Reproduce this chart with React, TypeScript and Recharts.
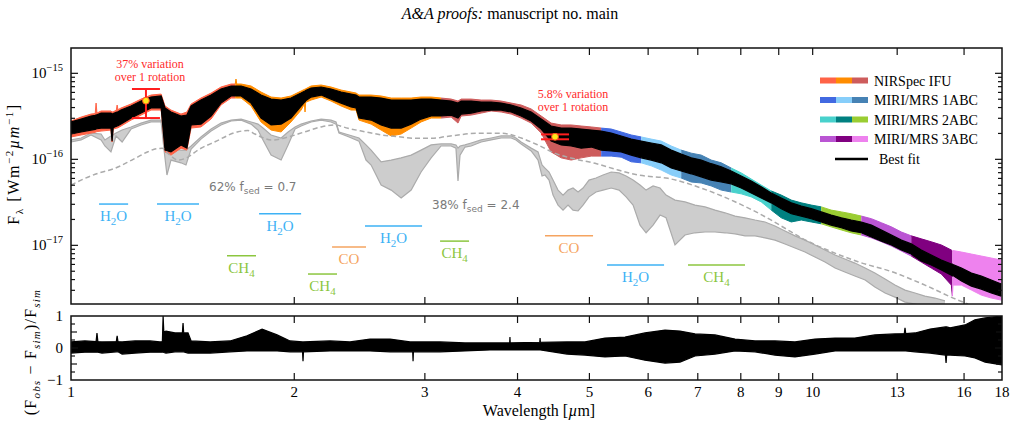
import React from 'react';
import {
  ComposedChart,
  Area,
  Line,
  Scatter,
  ErrorBar,
  XAxis,
  YAxis,
  ReferenceLine,
  ReferenceDot,
  Legend,
} from 'recharts';

const SERIF = '"Liberation Serif", "Times New Roman", serif';
const SANS = '"DejaVu Sans", "Liberation Sans", sans-serif';

// Flux values are in units of 1e-16 W m^-2 µm^-1.

// Observed spectrum and best fit: wavelength grid (µm)
const SPEC_WAVE = [
  1.0, 1.032, 1.064, 1.078, 1.081, 1.084, 1.098, 1.132, 1.136, 1.14, 1.151, 1.154, 1.157, 1.168,
  1.205, 1.243, 1.282, 1.323, 1.339, 1.364, 1.407, 1.433, 1.452, 1.497, 1.545, 1.593, 1.644, 1.665,
  1.669, 1.673, 1.696, 1.749, 1.804, 1.861, 1.92, 1.98, 2.043, 2.064, 2.068, 2.072, 2.107, 2.174,
  2.242, 2.313, 2.386, 2.423, 2.445, 2.539, 2.619, 2.702, 2.787, 2.875, 2.965, 3.059, 3.155, 3.255,
  3.325, 3.358, 3.464, 3.573, 3.686, 3.802, 3.922, 4.045, 4.173, 4.305, 4.44, 4.581, 4.725, 4.874,
  5.028, 5.186, 5.35, 5.519, 5.693, 5.872, 6.058, 6.249, 6.446, 6.649, 6.859, 7.075, 7.298, 7.529,
  7.766, 8.011, 8.264, 8.524, 8.793, 9.071, 9.357, 9.652, 9.956, 10.27, 10.59, 10.93, 11.27, 11.63,
  12.0, 12.38, 12.77, 13.17, 13.58, 14.01, 14.45, 14.91, 15.38, 15.43, 15.46, 15.87, 16.37, 16.88,
  17.41, 17.96,
];
// Best-fit model envelope
const FIT_HI = [
  2.72, 2.94, 3.19, 3.24, 3.27, 3.3, 3.45, 3.45, 3.36, 3.4, 3.52, 3.55, 3.58, 3.74,
  4.17, 4.76, 5.3, 5.45, 3.95, 3.55, 3.19, 3.27, 4.17, 4.89, 5.59, 6.57, 7.12, 7.12,
  7.12, 7.12, 7.12, 6.57, 5.59, 5.02, 4.89, 5.16, 5.9, 6.2, 6.23, 6.3, 6.75, 6.93,
  6.57, 6.06, 5.74, 5.59, 5.3, 5.3, 5.16, 4.89, 4.89, 4.89, 5.02, 5.02, 4.89, 4.76,
  4.51, 4.76, 4.76, 4.64, 4.64, 4.51, 4.28, 3.95, 3.55, 2.94, 2.44, 2.31, 2.31, 2.25,
  2.19, 2.13, 2.02, 1.87, 1.72, 1.63, 1.55, 1.47, 1.28, 1.15, 1.04, 0.981, 0.89, 0.82,
  0.731, 0.641, 0.561, 0.479, 0.407, 0.355, 0.312, 0.287, 0.267, 0.245, 0.225, 0.209, 0.197, 0.187,
  0.172, 0.151, 0.132, 0.115, 0.104, 0.0882, 0.0771, 0.0675, 0.0606, 0.0606, 0.06, 0.0545, 0.0476, 0.044,
  0.0395, 0.0355,
];
const FIT_LO = [
  1.97, 2.08, 2.19, 2.23, 2.25, 2.27, 2.31, 2.31, 1.63, 2.33, 2.42, 2.44, 2.46, 2.57,
  3.02, 3.45, 3.95, 3.95, 1.28, 1.22, 1.47, 1.35, 2.51, 2.57, 3.19, 4.51, 5.45, 5.45,
  5.45, 5.45, 5.45, 4.51, 3.02, 2.51, 2.57, 3.02, 4.17, 4.6, 4.64, 4.8, 5.3, 5.59,
  5.02, 4.51, 4.06, 3.95, 3.02, 2.86, 2.51, 2.31, 2.31, 2.57, 2.94, 3.19, 3.19, 3.27,
  3.02, 3.36, 3.45, 3.65, 3.74, 3.74, 3.55, 3.19, 2.79, 2.25, 1.63, 1.47, 1.43, 1.35,
  1.39, 1.28, 1.25, 1.22, 1.12, 1.04, 0.981, 0.911, 0.792, 0.731, 0.679, 0.626, 0.574, 0.545,
  0.519, 0.464, 0.407, 0.355, 0.312, 0.267, 0.233, 0.219, 0.204, 0.187, 0.172, 0.16, 0.147, 0.14,
  0.125, 0.112, 0.101, 0.0882, 0.0792, 0.0657, 0.059, 0.0516, 0.0451, 0.044, 0.0445, 0.0385, 0.0336, 0.031,
  0.0279, 0.0257,
];
// Observed data envelope
const OBS_HI = [
  2.79, 3.1, 3.36, 3.4, 4.51, 3.45, 3.65, 3.65, 3.55, 3.58, 3.72, 4.28, 3.78, 3.95,
  4.4, 5.02, 5.59, 5.74, 4.17, 3.74, 3.36, 3.55, 4.4, 5.16, 5.9, 6.93, 7.51, 7.51,
  8.59, 7.51, 7.51, 7.12, 6.06, 5.3, 5.16, 5.45, 6.23, 6.5, 6.57, 6.6, 7.12, 7.31,
  6.93, 6.39, 6.06, 5.9, 5.59, 5.59, 5.45, 5.16, 5.16, 5.16, 5.3, 5.3, 5.16, 5.02,
  4.76, 5.02, 5.02, 4.89, 4.89, 4.76, 4.51, 4.28, 3.85, 3.19, 2.64, 2.51, 2.51, 2.44,
  2.38, 2.31, 2.25, 2.08, 1.92, 1.82, 1.72, 1.63, 1.43, 1.28, 1.18, 1.12, 0.981, 0.911,
  0.792, 0.695, 0.59, 0.502, 0.429, 0.384, 0.336, 0.312, 0.294, 0.28, 0.257, 0.245, 0.233, 0.219,
  0.204, 0.183, 0.164, 0.143, 0.129, 0.119, 0.11, 0.101, 0.0882, 0.0859, 0.087, 0.0836, 0.0792, 0.0751,
  0.0712, 0.0675,
];
const OBS_LO = [
  1.82, 1.92, 2.02, 2.06, 2.08, 2.1, 2.13, 2.19, 1.59, 2.25, 2.3, 2.31, 2.33, 2.44,
  2.86, 3.27, 3.74, 3.74, 1.22, 1.12, 1.35, 1.28, 2.31, 2.38, 2.94, 4.28, 5.16, 5.16,
  5.16, 5.16, 5.16, 4.17, 2.72, 2.19, 2.08, 2.72, 3.74, 4.4, 3.55, 4.6, 4.89, 5.3,
  4.76, 4.17, 3.74, 3.74, 2.86, 2.57, 2.19, 1.87, 1.97, 2.31, 2.72, 3.02, 3.02, 3.1,
  2.64, 3.19, 3.27, 3.45, 3.65, 3.55, 3.36, 3.02, 2.64, 2.02, 1.22, 1.04, 0.981, 1.04,
  1.09, 1.09, 1.09, 1.06, 0.936, 0.911, 0.84, 0.751, 0.657, 0.606, 0.545, 0.531, 0.491, 0.439,
  0.417, 0.397, 0.366, 0.32, 0.257, 0.209, 0.187, 0.197, 0.187, 0.178, 0.164, 0.151, 0.14, 0.132,
  0.122, 0.11, 0.0981, 0.0859, 0.0751, 0.0639, 0.0545, 0.0464, 0.0345, 0.0257, 0.0345, 0.0345, 0.0302, 0.0264,
  0.0244, 0.0231,
];

// Instrument sub-bands (µm) and their colours
const SEG_FROM = [1.0, 1.66, 3.06, 5.05, 5.7, 6.55, 7.55, 8.7, 10.05, 11.6, 13.4, 15.4];
const SEG_TO = [1.66, 3.06, 5.05, 5.7, 6.55, 7.55, 8.7, 10.05, 11.6, 13.4, 15.4, 18.0];
const SEG_COLOR = [
  '#FF6347', '#FF8C00', '#CD5C5C',
  '#4169E1', '#87CEFA', '#4682B4',
  '#48D1CC', '#008080', '#9ACD32',
  '#BA55D3', '#800080', '#EE82EE',
];

// Cloudy model component (62 %, f_sed = 0.7)
const CLOUDY_WAVE = [
  1.0, 1.032, 1.064, 1.098, 1.111, 1.132, 1.15, 1.172, 1.205, 1.243, 1.282, 1.323, 1.335, 1.347,
  1.364, 1.407, 1.429, 1.452, 1.497, 1.545, 1.593, 1.644, 1.696, 1.749, 1.787, 1.815, 1.861, 1.92,
  1.962, 2.005, 2.043, 2.107, 2.174, 2.242, 2.277, 2.298, 2.371, 2.445, 2.499, 2.539, 2.619, 2.702,
  2.787, 2.875, 2.965, 3.059, 3.155, 3.255, 3.304, 3.325, 3.346, 3.398, 3.464, 3.573, 3.686, 3.802,
  3.922, 3.981, 4.045, 4.173, 4.263, 4.316, 4.356, 4.411, 4.466, 4.536, 4.607, 4.679, 4.752, 4.827,
  4.902, 4.994, 5.104, 5.216, 5.35, 5.482, 5.603, 5.726, 5.851, 5.962, 6.093, 6.226, 6.343, 6.522,
  6.728, 6.94, 7.159, 7.385, 7.617, 7.858, 8.105, 8.361, 8.625, 8.896, 9.177, 9.466, 9.765, 10.07,
  10.39, 10.72, 11.05, 11.4, 11.77, 12.13, 12.52, 12.91, 13.32, 13.74, 14.17, 14.62, 15.08,
];
const CLOUDY_HI = [
  1.68, 1.77, 2.02, 1.97, 1.68, 1.87, 2.02, 2.19, 2.38, 2.64, 2.86, 2.86, 2.51, 1.28,
  1.35, 1.28, 1.28, 1.43, 1.82, 2.25, 2.64, 2.86, 2.94, 2.72, 2.57, 2.31, 1.92, 1.77,
  2.08, 2.38, 2.57, 2.79, 2.94, 2.86, 2.72, 2.08, 1.92, 1.77, 1.47, 1.28, 0.936, 0.981,
  1.04, 1.12, 1.28, 1.47, 1.51, 1.51, 1.47, 1.35, 1.43, 1.47, 1.55, 1.68, 1.77, 1.87,
  1.87, 1.77, 1.59, 1.35, 1.22, 0.859, 0.792, 0.712, 0.574, 0.439, 0.384, 0.439, 0.464, 0.417,
  0.464, 0.574, 0.606, 0.657, 0.712, 0.695, 0.641, 0.574, 0.502, 0.439, 0.491, 0.464, 0.384, 0.336,
  0.32, 0.294, 0.28, 0.257, 0.239, 0.219, 0.209, 0.197, 0.187, 0.168, 0.147, 0.129, 0.115, 0.101,
  0.0882, 0.0771, 0.0693, 0.0622, 0.0545, 0.0476, 0.0406, 0.0345, 0.0302, 0.0279, 0.0257, 0.0244, 0.0226,
];
const CLOUDY_LO = [
  1.59, 1.68, 1.92, 1.68, 1.43, 1.22, 1.87, 1.59, 2.25, 2.51, 2.72, 2.72, 1.28, 0.657,
  0.981, 0.911, 0.859, 1.32, 1.72, 2.13, 2.51, 2.79, 2.86, 2.57, 2.19, 1.68, 1.12, 0.981,
  1.47, 2.25, 2.44, 2.72, 2.86, 2.72, 2.57, 2.02, 1.82, 1.63, 0.981, 0.859, 0.502, 0.439,
  0.355, 0.439, 0.712, 1.04, 1.43, 1.43, 1.35, 0.561, 1.12, 1.39, 1.43, 1.59, 1.68, 1.77,
  1.77, 1.68, 1.51, 1.25, 0.981, 0.641, 0.657, 0.574, 0.384, 0.294, 0.257, 0.294, 0.257, 0.251,
  0.294, 0.366, 0.417, 0.439, 0.464, 0.439, 0.366, 0.294, 0.172, 0.14, 0.172, 0.225, 0.209, 0.101,
  0.132, 0.14, 0.143, 0.143, 0.14, 0.136, 0.129, 0.129, 0.122, 0.115, 0.1035, 0.093, 0.0836, 0.0731,
  0.0639, 0.0545, 0.0489, 0.044, 0.0395, 0.0327, 0.0279, 0.025, 0.0219, 0.0208, 0.0195, 0.0192, 0.0185,
];

// Thin-cloud model component (38 %, f_sed = 2.4)
const CLEAR_WAVE = [
  1.0, 1.044, 1.087, 1.146, 1.208, 1.27, 1.298, 1.327, 1.351, 1.394, 1.438, 1.483, 1.564, 1.68,
  1.732, 1.77, 1.866, 1.962, 2.068, 2.18, 2.27, 2.363, 2.491, 2.627, 2.76, 2.91, 3.068, 3.194,
  3.538, 3.812, 4.056, 4.263, 4.494, 4.737, 5.088, 5.464, 5.815, 6.382, 7.093, 7.858, 8.706, 9.177,
  9.674, 10.17, 10.39, 11.51, 12.79, 14.17, 15.7, 16.2,
];
const CLEAR_FLUX = [
  0.502, 0.601, 0.688, 0.786, 0.981, 1.226, 1.318, 1.342, 1.174, 0.981, 1.063, 1.283, 1.602, 2.094,
  2.162, 1.97, 1.676, 1.816, 2.094, 2.394, 2.504, 2.294, 2.094, 1.917, 1.832, 1.755, 1.755, 1.832,
  2.006, 2.006, 1.755, 1.466, 1.174, 1.027, 0.899, 0.751, 0.657, 0.601, 0.46, 0.321, 0.206, 0.158,
  0.121, 0.0981, 0.0906, 0.0645, 0.0493, 0.0345, 0.0231, 0.0208,
];

// Relative residuals (F_obs - F_sim) / F_sim
const RES_WAVE = [
  1.0, 1.044, 1.081, 1.084, 1.087, 1.101, 1.151, 1.154, 1.157, 1.172, 1.22, 1.278, 1.318, 1.328,
  1.331, 1.334, 1.343, 1.381, 1.413, 1.416, 1.419, 1.438, 1.452, 1.54, 1.638, 1.727, 1.81, 1.896,
  1.974, 2.052, 2.055, 2.058, 2.235, 2.378, 2.53, 2.693, 2.865, 2.889, 2.892, 2.895, 3.145, 3.398,
  3.672, 3.904, 3.907, 3.91, 4.286, 4.29, 4.294, 4.665, 4.932, 5.248, 5.585, 5.942, 6.323, 6.624,
  6.94, 7.385, 7.858, 8.361, 8.896, 9.466, 10.07, 10.72, 11.4, 12.13, 12.91, 13.29, 13.32, 13.35,
  13.74, 14.4, 15.1, 15.13, 15.16, 15.32, 16.05, 16.55, 17.08, 18.0,
];
const RES_HI = [
  0.19, 0.22, 0.2, 0.47, 0.2, 0.19, 0.2, 0.38, 0.2, 0.19, 0.22, 0.22, 0.19, 0.2,
  1.0, 0.5, 0.53, 0.47, 0.47, 0.78, 0.47, 0.47, 0.22, 0.19, 0.22, 0.38, 0.59, 0.41,
  0.22, 0.19, 0.19, 0.19, 0.22, 0.19, 0.28, 0.28, 0.19, 0.19, 0.19, 0.19, 0.19, 0.16,
  0.16, 0.16, 0.34, 0.16, 0.18, 0.31, 0.18, 0.19, 0.19, 0.31, 0.34, 0.47, 0.56, 0.53,
  0.44, 0.41, 0.28, 0.22, 0.22, 0.19, 0.28, 0.31, 0.31, 0.41, 0.44, 0.45, 0.63, 0.45,
  0.47, 0.59, 0.66, 0.66, 0.66, 0.63, 0.72, 0.88, 0.94, 1.0,
];
const RES_LO = [
  -0.16, -0.13, -0.13, -0.13, -0.13, -0.16, -0.12, -0.12, -0.12, -0.19, -0.16, -0.13, -0.13, -0.13,
  -0.12, -0.14, -0.16, -0.12, -0.12, -0.12, -0.12, -0.16, -0.16, -0.16, -0.12, -0.09, -0.09, -0.09,
  -0.12, -0.12, -0.41, -0.12, -0.09, -0.09, -0.09, -0.12, -0.12, -0.12, -0.41, -0.12, -0.12, -0.09,
  -0.06, -0.06, -0.06, -0.06, -0.06, -0.06, -0.06, -0.19, -0.22, -0.28, -0.25, -0.38, -0.47, -0.44,
  -0.25, -0.19, -0.09, -0.12, -0.22, -0.28, -0.19, -0.09, -0.09, -0.09, -0.09, -0.09, -0.09, -0.09,
  -0.12, -0.16, -0.22, -0.47, -0.22, -0.22, -0.25, -0.31, -0.44, -0.53,
];

// Photometric variability points with their amplitude
const VAR_POINTS = [
  { w: 1.262, f: 4.8, err: [1.78, 1.77] },
  { w: 4.494, f: 1.83, err: [0.12, 0.12] },
];

// Molecular absorption bands
const BAND_NAME = ['H2O', 'H2O', 'H2O', 'CH4', 'CO', 'CH4', 'H2O', 'CH4', 'CO', 'H2O', 'CH4'];
const BAND_FROM = [1.091, 1.306, 1.793, 1.623, 2.249, 2.087, 2.491, 3.145, 4.356, 5.281, 6.791];
const BAND_TO = [1.194, 1.488, 2.043, 1.776, 2.499, 2.284, 2.974, 3.441, 5.057, 6.304, 8.105];
const BAND_LEVEL = [0.302, 0.302, 0.233, 0.0757, 0.0955, 0.0464, 0.168, 0.112, 0.129, 0.059, 0.059];
const MOLECULE_COLOR: Record<string, string> = { H2O: '#3DB2F5', CH4: '#8CC63F', CO: '#F5A460' };

const X_TICKS = [1, 2, 3, 4, 5, 6, 7, 8, 9, 10, 13, 16, 18];
const FLUX_MAJOR = [0.1, 1, 10];
const FLUX_TICKS = [
  0.03, 0.04, 0.05, 0.06, 0.07, 0.08, 0.09, 0.1,
  0.2, 0.3, 0.4, 0.5, 0.6, 0.7, 0.8, 0.9, 1,
  2, 3, 4, 5, 6, 7, 8, 9, 10,
];
const RES_MAJOR = [-1, 0, 1];
const RES_TICKS = [-1, -0.75, -0.5, -0.25, 0, 0.25, 0.5, 0.75, 1];

const LEGEND_LABELS = ['NIRSpec IFU', 'MIRI/MRS 1ABC', 'MIRI/MRS 2ABC', 'MIRI/MRS 3ABC'];

// ---------- page layout (plot boxes of the two panels) ----------
const PAGE_W = 1016;
const PAGE_H = 427;
const PLOT_LEFT = 71;
const PLOT_RIGHT = 1002;
const MAIN_TOP = 48;
const MAIN_BOTTOM = 304;
const RES_CHART_TOP = 300;
const RES_TOP = 316;
const RES_BOTTOM = 380;

// ---------- derived rows ----------
const fitRows = SPEC_WAVE.map((w, i) => ({ w, band: [FIT_LO[i], FIT_HI[i]] }));
const obsRows = SPEC_WAVE.map((w, i) => ({ w, band: [OBS_LO[i], OBS_HI[i]] }));
const segmentRows = SEG_FROM.map((from, s) => {
  const idx = SPEC_WAVE.map((_, i) => i).filter((i) => SPEC_WAVE[i] >= from && SPEC_WAVE[i] < SEG_TO[s]);
  const last = idx[idx.length - 1];
  if (last + 1 < SPEC_WAVE.length) idx.push(last + 1);
  return idx.map((i) => obsRows[i]);
});
const cloudyRows = CLOUDY_WAVE.map((w, i) => ({ w, band: [CLOUDY_LO[i], CLOUDY_HI[i]] }));
const clearRows = CLEAR_WAVE.map((w, i) => ({ w, f: CLEAR_FLUX[i] }));
const resRows = RES_WAVE.map((w, i) => ({ w, band: [RES_LO[i], RES_HI[i]] }));

const isMajor = (v: number, majors: number[]) => majors.some((m) => Math.abs(m - v) < 1e-9);
const MINUS = '\u2212';
const FRAME = '#111';

// ---------- tick labels (drawn by the axes) ----------
const xLabel = (p: any) => (
  <text x={p.x} y={p.y + 17} textAnchor="middle" fontFamily={SERIF} fontSize={15} fill="#000">
    {p.payload.value}
  </text>
);
const noLabel = () => <g />;

const fluxLabel = (p: any) => {
  const v = p.payload.value;
  if (!isMajor(v, FLUX_MAJOR)) return <g />;
  const exp = Math.round(Math.log10(v)) - 16;
  return (
    <text x={p.x - 8} y={p.y + 5} textAnchor="end" fontFamily={SERIF} fontSize={15} fill="#000">
      10
      <tspan dy={-7} fontSize={10.5}>
        {MINUS + Math.abs(exp)}
      </tspan>
    </text>
  );
};

const resLabel = (p: any) => {
  const v = p.payload.value;
  if (!isMajor(v, RES_MAJOR)) return <g />;
  return (
    <text x={p.x - 8} y={p.y + 5} textAnchor="end" fontFamily={SERIF} fontSize={15} fill="#000">
      {v < 0 ? MINUS + Math.abs(v) : String(v)}
    </text>
  );
};

// ---------- inward tick marks drawn at both ends of a full-span segment ----------
const xTickMark = (p: any) => {
  const top = Math.min(p.y1, p.y2);
  const bot = Math.max(p.y1, p.y2);
  return (
    <g>
      <line x1={p.x1} x2={p.x1} y1={top} y2={top + 7} stroke={FRAME} strokeWidth={1.2} />
      <line x1={p.x1} x2={p.x1} y1={bot} y2={bot - 7} stroke={FRAME} strokeWidth={1.2} />
    </g>
  );
};
const yTickMark = (len: number) => (p: any) => {
  const left = Math.min(p.x1, p.x2);
  const right = Math.max(p.x1, p.x2);
  return (
    <g>
      <line x1={left} x2={left + len} y1={p.y1} y2={p.y1} stroke={FRAME} strokeWidth={1.2} />
      <line x1={right} x2={right - len} y1={p.y1} y2={p.y1} stroke={FRAME} strokeWidth={1.2} />
    </g>
  );
};

// Tick marks of one panel, as segments in data coordinates
const panelTicks = (yDomain: [number, number], yTicks: number[], yLen: (v: number) => number) => {
  const [x0, x1] = X_DOMAIN;
  const [y0, y1] = yDomain;
  return [
    ...X_TICKS.filter((t) => t > x0 && t < x1).map((t) => (
      <ReferenceLine
        key={`xt${t}`}
        xAxisId="b"
        yAxisId="l"
        segment={[{ x: t, y: y0 }, { x: t, y: y1 }]}
        shape={xTickMark}
      />
    )),
    ...yTicks
      .filter((t) => t > y0 && t < y1)
      .map((t) => (
        <ReferenceLine
          key={`yt${t}`}
          xAxisId="b"
          yAxisId="l"
          segment={[{ x: x0, y: t }, { x: x1, y: t }]}
          shape={yTickMark(yLen(t))}
        />
      )),
  ];
};

// ---------- labels ----------
const MoleculeText = ({ name, cx, y }: { name: string; cx: number; y: number }) => {
  const color = MOLECULE_COLOR[name];
  const common = { x: cx, y, textAnchor: 'middle' as const, fontFamily: SERIF, fontSize: 15, fill: color };
  if (name === 'H2O')
    return (
      <text {...common}>
        H<tspan dy={4} fontSize={11}>2</tspan>
        <tspan dy={-4}>O</tspan>
      </text>
    );
  if (name === 'CH4')
    return (
      <text {...common}>
        CH<tspan dy={4} fontSize={11}>4</tspan>
      </text>
    );
  return <text {...common}>{name}</text>;
};

const moleculeLabel = (name: string) => (props: any) => {
  const vb = props.viewBox || {};
  return <MoleculeText name={name} cx={vb.x + vb.width / 2} y={vb.y + 17} />;
};

const fsedLabel = (share: string, value: string) => (props: any) => {
  const vb = props.viewBox || {};
  return (
    <text x={vb.x} y={vb.y + 5} fontFamily={SANS} fontSize={12} fill="#7a7a7a">
      {share} f<tspan dy={3} fontSize={9}>sed</tspan>
      <tspan dy={-3}> = {value}</tspan>
    </text>
  );
};

const noteLabel = (text: string) => (props: any) => {
  const vb = props.viewBox || {};
  return (
    <text x={vb.x} y={vb.y + 4} textAnchor="middle" fontFamily={SERIF} fontSize={12} fill="#FF2A2A">
      {text}
    </text>
  );
};

const VarDot = (p: any) => (
  <circle cx={p.cx} cy={p.cy} r={3.4} fill="#FFE81A" stroke="#FF5020" strokeWidth={1} />
);

const LegendBox = () => (
  <svg width={195} height={105} style={{ display: 'block', overflow: 'visible' }}>
    {LEGEND_LABELS.map((label, i) => {
      const cy = 12.5 + i * 19.5;
      return (
        <g key={label}>
          {[0, 1, 2].map((j) => (
            <rect key={j} x={5 + j * 16} y={cy - 3} width={16} height={6} fill={SEG_COLOR[i * 3 + j]} />
          ))}
          <text x={59} y={cy + 5} fontFamily={SERIF} fontSize={14} fill="#000">
            {label}
          </text>
        </g>
      );
    })}
    <line x1={20} x2={53} y1={91} y2={91} stroke="#000" strokeWidth={2.5} />
    <text x={64} y={96} fontFamily={SERIF} fontSize={14} fill="#000">
      Best fit
    </text>
  </svg>
);

const FLUX_DOMAIN: [number, number] = [0.0208, 19.7];
const RES_DOMAIN: [number, number] = [-1, 1];
const X_DOMAIN: [number, number] = [1, 18];

// Shared props for the x axes (labels only; marks come from the reference segments)
const xAxisCommon = {
  dataKey: 'w',
  type: 'number' as const,
  scale: 'log' as const,
  domain: X_DOMAIN,
  allowDataOverflow: true,
  ticks: X_TICKS,
  interval: 0,
  height: 1,
  tickSize: 0,
  tickMargin: 0,
  tickLine: false,
  axisLine: false,
};

const MAIN_H = MAIN_BOTTOM + 6;
const RES_H = PAGE_H - RES_CHART_TOP;

export default function App() {
  return (
    <div style={{ position: 'absolute', left: 0, top: 0, width: PAGE_W, height: PAGE_H, background: '#fff' }}>
      {/* Spectrum panel */}
      <div style={{ position: 'absolute', left: 0, top: 0 }}>
        <ComposedChart
          width={PAGE_W}
          height={MAIN_H}
          margin={{ top: MAIN_TOP, right: PAGE_W - PLOT_RIGHT, bottom: MAIN_H - MAIN_BOTTOM - 1, left: 0 }}
        >
          <XAxis xAxisId="b" {...xAxisCommon} tick={noLabel} />
          <YAxis
            yAxisId="l"
            type="number"
            scale="log"
            domain={FLUX_DOMAIN}
            allowDataOverflow
            ticks={FLUX_MAJOR}
            interval={0}
            width={PLOT_LEFT}
            tickSize={0}
            tickMargin={0}
            tickLine={false}
            axisLine={false}
            tick={fluxLabel}
          />

          <Area
            data={cloudyRows}
            xAxisId="b"
            yAxisId="l"
            dataKey="band"
            type="linear"
            stroke="#ABABAB"
            strokeWidth={1.2}
            fill="#ABABAB"
            fillOpacity={0.6}
            isAnimationActive={false}
          />
          <Line
            data={clearRows}
            xAxisId="b"
            yAxisId="l"
            dataKey="f"
            type="monotone"
            stroke="#ABABAB"
            strokeWidth={1.5}
            strokeDasharray="5 3"
            dot={false}
            isAnimationActive={false}
          />
          {segmentRows.map((rows, s) => (
            <Area
              key={s}
              data={rows}
              xAxisId="b"
              yAxisId="l"
              dataKey="band"
              type="linear"
              stroke={SEG_COLOR[s]}
              strokeWidth={1}
              fill={SEG_COLOR[s]}
              fillOpacity={1}
              isAnimationActive={false}
            />
          ))}
          <Area
            data={fitRows}
            xAxisId="b"
            yAxisId="l"
            dataKey="band"
            type="linear"
            stroke="#000"
            strokeWidth={1.2}
            fill="#000"
            fillOpacity={1}
            isAnimationActive={false}
          />

          {BAND_NAME.map((name, i) => (
            <ReferenceLine
              key={i}
              xAxisId="b"
              yAxisId="l"
              segment={[
                { x: BAND_FROM[i], y: BAND_LEVEL[i] },
                { x: BAND_TO[i], y: BAND_LEVEL[i] },
              ]}
              stroke={MOLECULE_COLOR[name]}
              strokeWidth={1.5}
              label={moleculeLabel(name)}
            />
          ))}

          <ReferenceDot xAxisId="b" yAxisId="l" x={1.535} y={0.489} r={0} fill="none" stroke="none" label={fsedLabel('62%', '0.7')} />
          <ReferenceDot xAxisId="b" yAxisId="l" x={3.068} y={0.302} r={0} fill="none" stroke="none" label={fsedLabel('38%', '2.4')} />
          <ReferenceDot xAxisId="b" yAxisId="l" x={1.278} y={12.72} r={0} fill="none" stroke="none" label={noteLabel('37% variation')} />
          <ReferenceDot xAxisId="b" yAxisId="l" x={1.278} y={8.98} r={0} fill="none" stroke="none" label={noteLabel('over 1 rotation')} />
          <ReferenceDot xAxisId="b" yAxisId="l" x={4.752} y={5.7} r={0} fill="none" stroke="none" label={noteLabel('5.8% variation')} />
          <ReferenceDot xAxisId="b" yAxisId="l" x={4.752} y={4.06} r={0} fill="none" stroke="none" label={noteLabel('over 1 rotation')} />

          <Scatter
            data={VAR_POINTS}
            xAxisId="b"
            yAxisId="l"
            dataKey="f"
            shape={VarDot}
            isAnimationActive={false}
          >
            <ErrorBar dataKey="err" direction="y" width={14} stroke="#FF1E1E" strokeWidth={2} />
          </Scatter>

          {panelTicks(FLUX_DOMAIN, FLUX_TICKS, (v) => (isMajor(v, FLUX_MAJOR) ? 7 : 4))}

          <Legend
            layout="vertical"
            align="center"
            verticalAlign="middle"
            content={() => <LegendBox />}
            wrapperStyle={{ left: 815, top: 68, width: 195, height: 105 }}
          />
        </ComposedChart>
      </div>

      {/* Residual panel */}
      <div style={{ position: 'absolute', left: 0, top: RES_CHART_TOP }}>
        <ComposedChart
          width={PAGE_W}
          height={RES_H}
          margin={{
            top: RES_TOP - RES_CHART_TOP,
            right: PAGE_W - PLOT_RIGHT,
            bottom: PAGE_H - RES_BOTTOM - 1,
            left: 0,
          }}
        >
          <XAxis xAxisId="b" {...xAxisCommon} tick={xLabel} />
          <YAxis
            yAxisId="l"
            type="number"
            domain={RES_DOMAIN}
            allowDataOverflow
            ticks={RES_MAJOR}
            interval={0}
            width={PLOT_LEFT}
            tickSize={0}
            tickMargin={0}
            tickLine={false}
            axisLine={false}
            tick={resLabel}
          />
          <Area
            data={resRows}
            xAxisId="b"
            yAxisId="l"
            dataKey="band"
            type="linear"
            stroke="#000"
            strokeWidth={1.2}
            fill="#000"
            fillOpacity={1}
            isAnimationActive={false}
          />
          {panelTicks(RES_DOMAIN, RES_TICKS, (v) => (isMajor(v, RES_MAJOR) ? 7 : Math.abs(v) === 0.5 ? 6 : 4))}
        </ComposedChart>
      </div>

      {/* Panel borders, page header and axis titles */}
      <svg
        width={PAGE_W}
        height={PAGE_H}
        style={{ position: 'absolute', left: 0, top: 0, pointerEvents: 'none' }}
      >
        <rect
          x={PLOT_LEFT}
          y={MAIN_TOP}
          width={PLOT_RIGHT - PLOT_LEFT}
          height={MAIN_BOTTOM - MAIN_TOP}
          fill="none"
          stroke={FRAME}
          strokeWidth={1.5}
        />
        <rect
          x={PLOT_LEFT}
          y={RES_TOP}
          width={PLOT_RIGHT - PLOT_LEFT}
          height={RES_BOTTOM - RES_TOP}
          fill="none"
          stroke={FRAME}
          strokeWidth={1.5}
        />
        <text x={510} y={19} textAnchor="middle" fontFamily={SERIF} fontSize={16} fill="#000">
          <tspan fontStyle="italic">A&amp;A proofs:</tspan> manuscript no. main
        </text>
        <text
          x={19}
          y={164}
          transform="rotate(-90 19 164)"
          textAnchor="middle"
          fontFamily={SERIF}
          fontSize={16}
          letterSpacing={1.6}
          fill="#000"
        >
          F<tspan dy={4} fontSize={11}>λ</tspan>
          <tspan dy={-4}>{'  '}[Wm</tspan>
          <tspan dy={-6} fontSize={11}>{MINUS}2</tspan>
          <tspan dy={6} fontStyle="italic">µm</tspan>
          <tspan dy={-6} fontSize={11}>{MINUS}1</tspan>
          <tspan dy={6}>]</tspan>
        </text>
        <text
          x={36}
          y={352}
          transform="rotate(-90 36 352)"
          textAnchor="middle"
          fontFamily={SERIF}
          fontSize={16}
          letterSpacing={1.2}
          fill="#000"
        >
          (F<tspan dy={4} fontSize={11} fontStyle="italic">obs</tspan>
          <tspan dy={-4}> {MINUS} F</tspan>
          <tspan dy={4} fontSize={11} fontStyle="italic">sim</tspan>
          <tspan dy={-4}>)/F</tspan>
          <tspan dy={4} fontSize={11} fontStyle="italic">sim</tspan>
        </text>
        <text x={539} y={416} textAnchor="middle" fontFamily={SERIF} fontSize={16} fill="#000">
          Wavelength [<tspan fontStyle="italic">µ</tspan>m]
        </text>
      </svg>
    </div>
  );
}
